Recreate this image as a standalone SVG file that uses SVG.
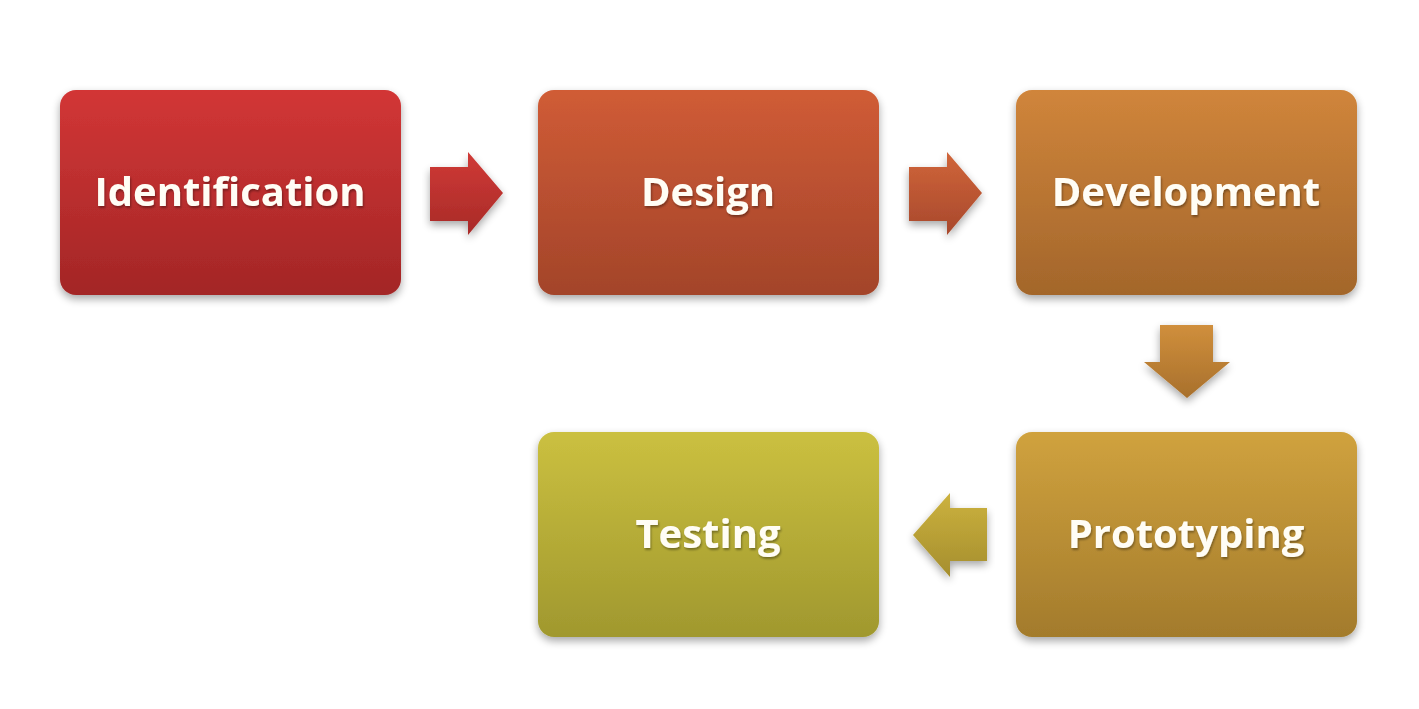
<svg xmlns="http://www.w3.org/2000/svg" width="1419" height="709" viewBox="0 0 1419 709">
<defs>
<linearGradient id="g1" x1="0" y1="0" x2="0" y2="1"><stop offset="0" stop-color="#D23636"/><stop offset="1" stop-color="#A32626"/></linearGradient>
<linearGradient id="g2" x1="0" y1="0" x2="0" y2="1"><stop offset="0" stop-color="#D05C36"/><stop offset="1" stop-color="#A3442A"/></linearGradient>
<linearGradient id="g3" x1="0" y1="0" x2="0" y2="1"><stop offset="0" stop-color="#D0853B"/><stop offset="1" stop-color="#A3662B"/></linearGradient>
<linearGradient id="g4" x1="0" y1="0" x2="0" y2="1"><stop offset="0" stop-color="#D0A23E"/><stop offset="1" stop-color="#A37B2C"/></linearGradient>
<linearGradient id="g5" x1="0" y1="0" x2="0" y2="1"><stop offset="0" stop-color="#CBC040"/><stop offset="1" stop-color="#A0982E"/></linearGradient>
<linearGradient id="a1" x1="0" y1="0" x2="0" y2="1"><stop offset="0" stop-color="#D03A36"/><stop offset="1" stop-color="#A82A28"/></linearGradient>
<linearGradient id="a2" x1="0" y1="0" x2="0" y2="1"><stop offset="0" stop-color="#D0653A"/><stop offset="1" stop-color="#A8482C"/></linearGradient>
<linearGradient id="a3" x1="0" y1="0" x2="0" y2="1"><stop offset="0" stop-color="#D08F3C"/><stop offset="1" stop-color="#A8702C"/></linearGradient>
<linearGradient id="a4" x1="0" y1="0" x2="0" y2="1"><stop offset="0" stop-color="#CCB23E"/><stop offset="1" stop-color="#A58E2E"/></linearGradient>
<filter id="sh" x="-10%" y="-10%" width="120%" height="125%">
<feGaussianBlur in="SourceAlpha" stdDeviation="4"/>
<feOffset dx="0" dy="4" result="b"/>
<feComponentTransfer><feFuncA type="linear" slope="0.35"/></feComponentTransfer>
<feMerge><feMergeNode/><feMergeNode in="SourceGraphic"/></feMerge>
</filter>
<filter id="ts" x="-5%" y="-20%" width="110%" height="140%">
<feGaussianBlur in="SourceAlpha" stdDeviation="1.2"/>
<feOffset dx="1" dy="1.5"/>
<feComponentTransfer><feFuncA type="linear" slope="0.35"/></feComponentTransfer>
<feMerge><feMergeNode/><feMergeNode in="SourceGraphic"/></feMerge>
</filter>
</defs>
<style>
.box{filter:url(#sh)}
.lbl{font-family:"Open Sans","Noto Sans","DejaVu Sans",sans-serif;font-weight:bold;font-size:40px;fill:#FFFDF5;text-anchor:middle;filter:url(#ts)}
.arr{filter:url(#sh)}
</style>
<rect width="1419" height="709" fill="#FFFFFF"/>
<g id="connectors">
<path class="arr" fill="url(#a1)" d="M430,167 H468 V152 L503,193 L468,235 V221 H430 Z"/>
<path class="arr" fill="url(#a2)" d="M909,167 H947 V152 L982,193 L947,235 V221 H909 Z"/>
<path class="arr" fill="url(#a3)" d="M1160,325 H1213 V362 H1230 L1187,398 L1144,362 H1160 Z"/>
<path class="arr" fill="url(#a4)" d="M987,508 H950 V493 L913,535 L950,577 V561 H987 Z"/>
</g>
<g id="n1"><rect class="box" x="60" y="90" width="341" height="205" rx="16" fill="url(#g1)"/><text class="lbl" x="230" y="206">Identification</text></g>
<g id="n2"><rect class="box" x="538" y="90" width="341" height="205" rx="16" fill="url(#g2)"/><text class="lbl" x="708" y="206">Design</text></g>
<g id="n3"><rect class="box" x="1016" y="90" width="341" height="205" rx="16" fill="url(#g3)"/><text class="lbl" x="1186" y="206">Development</text></g>
<g id="n4"><rect class="box" x="1016" y="432" width="341" height="205" rx="16" fill="url(#g4)"/><text class="lbl" x="1186" y="548">Prototyping</text></g>
<g id="n5"><rect class="box" x="538" y="432" width="341" height="205" rx="16" fill="url(#g5)"/><text class="lbl" x="708" y="548">Testing</text></g>
</svg>
